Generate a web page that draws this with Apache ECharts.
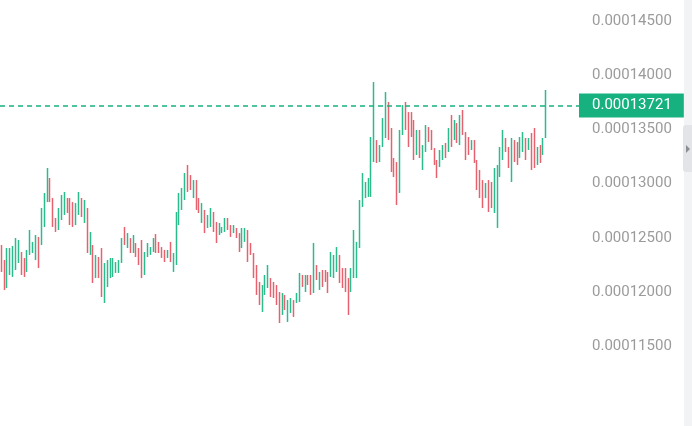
<!DOCTYPE html>
<html>
<head>
<meta charset="utf-8">
<script src="https://cdn.jsdelivr.net/npm/echarts@6/dist/echarts.min.js"></script>
<style>
html,body{margin:0;padding:0;background:#fff;}
#c{width:692px;height:426px;}
</style>
</head>
<body>
<div id="c"></div>
<script>
// prices are in units of 1e-8 (13721 => 0.00013721)
const opens = [12419,12280,12052,12172,12154,12218,12283,12354,12299,12200,12357,12375,12310,12493,12449,12615,12845,13037,12852,12668,
12587,12679,12726,12852,12852,12815,12633,12726,12852,12652,12760,12357,12419,12144,12308,12391,11914,12061,12144,12154,
12191,12191,12283,12585,12421,12483,12375,12437,12391,12465,12172,12338,12357,12384,12520,12447,12400,12373,12329,12447,
12200,12264,12633,12772,12864,13157,13064,12882,13018,12852,12652,12742,12606,12615,12723,12631,12541,12555,12569,12668,
12603,12559,12576,12529,12421,12477,12557,12437,12345,12234,12078,11831,11988,12052,12114,12078,12050,11985,11803,11958,
11739,11822,11911,11914,11923,12142,12015,12142,12142,12006,12234,12034,12188,12188,12170,12154,12144,12200,12327,12206,
12206,12114,12015,12144,12144,12421,12799,12882,12892,12892,13214,13387,13214,13353,13436,13738,13498,13221,13184,12929,
13463,13738,13645,13645,13572,13279,13480,13141,13307,13507,13480,13313,13203,13168,13233,13360,13307,13618,13417,13544,
13371,13664,13461,13415,13325,13387,13203,13111,13018,12882,13018,13000,12744,12606,13076,13233,13406,13323,13030,13387,
13369,13251,13307,13406,13325,13452,13498,13187,13341,13279,13436];
const closes = [12200,12034,12391,12391,12410,12483,12465,12172,12154,12373,12557,12447,12511,12236,12760,12899,13129,12845,12615,12569,
12760,12880,12908,12744,12633,12615,12806,12908,12707,12834,12375,12539,12098,12327,12144,11969,12253,12280,12299,12299,
12262,12280,12483,12449,12529,12375,12511,12338,12264,12144,12354,12437,12400,12483,12375,12375,12329,12292,12373,12292,
12345,12723,12899,12945,13083,12938,12956,13018,12772,12744,12806,12559,12696,12760,12569,12467,12622,12590,12668,12587,
12523,12603,12513,12384,12576,12576,12292,12357,12144,11988,11895,12050,12142,12234,11969,11960,11895,11729,11976,11849,
11911,11930,11785,11976,12161,12061,12142,12080,11988,12437,12126,12170,12061,12108,12006,12354,12327,12400,12098,12052,
12015,11803,12206,12557,12447,12834,13083,13000,13037,13415,13410,13205,13341,13590,13740,13417,13122,13076,12818,13480,
13710,13510,13353,13445,13233,13480,13251,13341,13526,13399,13325,13187,13067,13295,13341,13251,13498,13353,13572,13390,
13618,13463,13233,13279,13387,13205,12956,12882,12790,12991,12753,12790,13129,13157,13323,13480,13307,13159,13406,13214,
13187,13415,13461,13233,13406,13141,13159,13323,13205,13406,13721];
const lows = [12185,12019,12037,12157,12139,12203,12268,12157,12139,12185,12342,12360,12295,12221,12434,12600,12830,12830,12600,12554,
12572,12664,12711,12729,12618,12600,12618,12711,12692,12637,12360,12342,12083,12129,12129,11954,11899,12046,12129,12139,
12176,12176,12268,12434,12406,12360,12360,12323,12249,12129,12157,12323,12342,12369,12360,12360,12314,12277,12314,12277,
12185,12249,12618,12757,12849,12923,12941,12867,12757,12729,12637,12544,12591,12600,12554,12452,12526,12544,12554,12572,
12508,12544,12498,12369,12406,12462,12277,12342,12129,11973,11880,11816,11973,12037,11954,11945,11880,11714,11788,11834,
11724,11807,11770,11899,11908,12046,12000,12065,11973,11991,12111,12019,12046,12093,11991,12139,12129,12185,12083,12037,
12000,11788,12000,12129,12129,12406,12784,12867,12877,12877,13199,13190,13199,13338,13421,13402,13107,13061,12803,12914,
13448,13495,13338,13430,13218,13264,13236,13126,13292,13384,13310,13172,13052,13153,13218,13236,13292,13338,13402,13375,
13356,13448,13218,13264,13310,13190,12941,12867,12775,12867,12738,12775,12729,12591,13061,13218,13292,13144,13015,13199,
13172,13236,13292,13218,13310,13126,13144,13172,13190,13264,13421];
const highs = [12434,12295,12406,12406,12425,12498,12480,12369,12314,12388,12572,12462,12526,12508,12775,12914,13144,13052,12867,12683,
12775,12895,12923,12867,12867,12830,12821,12923,12867,12849,12775,12554,12434,12342,12323,12406,12268,12295,12314,12314,
12277,12295,12498,12600,12544,12498,12526,12452,12406,12480,12369,12452,12415,12498,12535,12462,12415,12388,12388,12462,
12360,12738,12914,12960,13098,13172,13079,13033,13033,12867,12821,12757,12711,12775,12738,12646,12637,12600,12683,12683,
12618,12618,12591,12544,12591,12591,12572,12452,12360,12249,12093,12065,12157,12249,12129,12093,12065,12000,11991,11973,
11926,11945,11926,11991,12176,12157,12157,12157,12157,12452,12249,12185,12203,12203,12185,12369,12342,12415,12342,12221,
12221,12129,12221,12572,12462,12849,13098,13015,13052,13430,13937,13402,13356,13605,13845,13753,13513,13236,13199,13495,
13725,13753,13660,13660,13587,13495,13495,13356,13541,13522,13495,13328,13218,13310,13356,13375,13513,13633,13587,13559,
13633,13679,13476,13430,13402,13402,13218,13126,13033,13006,13033,13015,13144,13172,13338,13495,13421,13338,13421,13402,
13384,13430,13476,13421,13421,13467,13513,13338,13356,13421,13864];
const lastPrice = 13721;
const axisMin = 10764, axisMax = 14694; // visible price range, bottom to top
const tickLabels = [11500, 12000, 12500, 13000, 13500, 14000, 14500];
const slotCount = 202; // category slots incl. empty space at the right

const categories = [];
for (let i = 0; i < slotCount; i++) categories.push(String(i));
const candles = opens.map((o, i) => [o, closes[i], lows[i], highs[i]]);

const UP = '#2bbb8c', DOWN = '#e6626f', TAG = '#16b17e';
const fmt = v => (v / 1e8).toFixed(8);

const chart = echarts.init(document.getElementById('c'), null, {renderer: 'canvas'});
chart.setOption({
  animation: false,
  backgroundColor: '#ffffff',
  grid: {left: 0, right: 113, top: 0, bottom: 0, containLabel: false},
  xAxis: {
    type: 'category', data: categories, boundaryGap: true,
    axisLine: {show: false}, axisTick: {show: false}, axisLabel: {show: false}, splitLine: {show: false}
  },
  yAxis: {
    type: 'value', position: 'right', min: axisMin, max: axisMax, scale: false,
    axisLine: {show: false}, axisTick: {show: false}, splitLine: {show: false},
    axisLabel: {
      customValues: tickLabels,
      margin: 13, align: 'left', color: '#9b9b9b', fontSize: 15, fontFamily: 'Roboto',
      formatter: v => fmt(v)
    }
  },
  series: [{
    type: 'candlestick',
    data: candles,
    barWidth: 1,
    itemStyle: {color: UP, color0: DOWN, borderColor: UP, borderColor0: DOWN, borderWidth: 1.5}
  }, {
    type: 'line',
    name: 'last',
    data: [],
    color: TAG,
    symbol: 'none',
    markLine: {
      silent: true, symbol: ['none', 'none'], animation: false,
      lineStyle: {color: TAG, type: [5, 4], width: 1.6, opacity: 1},
      label: {
        show: true, position: 'end', distance: 0, formatter: () => fmt(lastPrice),
        backgroundColor: TAG, color: '#ffffff', fontSize: 15, fontFamily: 'Roboto',
        lineHeight: 18, padding: [3, 12, 3, 13]
      },
      emphasis: {disabled: true},
      data: [{yAxis: lastPrice}]
    }
  }],
  graphic: [
    {type: 'rect', left: 684, top: 0, shape: {width: 8, height: 426}, style: {fill: '#f2f3f5'}, silent: true},
    {type: 'rect', left: 683, top: 125, shape: {width: 9, height: 47, r: [3, 0, 0, 3]}, style: {fill: '#e3e4e8'}, silent: true},
    {type: 'polygon', shape: {points: [[686, 145], [686, 153], [690, 149]]}, style: {fill: '#8b8e94'}, silent: true}
  ]
});
</script>
</body>
</html>
